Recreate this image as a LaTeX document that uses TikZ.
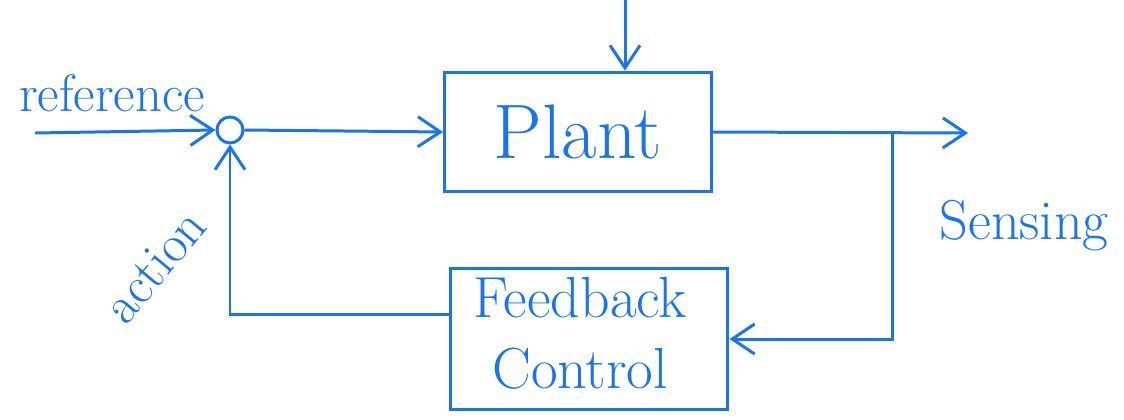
\documentclass[tikz,border=0pt]{standalone}
\usepackage{tikz}
\usetikzlibrary{positioning,shapes,arrows.meta}

\definecolor{ink}{HTML}{1A74F0}

\begin{document}
\begin{tikzpicture}[x=0.02cm, y=-0.02cm,
    line width=1.7pt, draw=ink, text=ink,
    block/.style={draw=ink, rectangle, inner sep=0pt},
    arr/.style={-{Straight Barb[length=0.45cm, width=0.6cm]}},
    lbl/.style={font=\fontsize{30}{32}\selectfont}]
    \useasboundingbox (0,0) rectangle (1124,419);

    % blocks
    \node (sum) [circle, draw=ink, minimum size=0.52cm, inner sep=0pt] at (230,130) {};
    \node (plant) [block, minimum width=5.34cm, minimum height=2.4cm] at (578,132)
    {
        {\fontsize{44}{46}\selectfont Plant}
    };
    \node (fb) [block, minimum width=5.56cm, minimum height=2.76cm] at (589,339)
    {
        {\fontsize{33}{40}\selectfont
        \begin{tabular}{c}
        Feedback \\
        Control
        \end{tabular}
        }
    };

    % free ends
    \coordinate (refin) at (35,133);
    \coordinate (dist) at (625,0);
    \coordinate (out) at (968,133);
    \coordinate (tap) at (892,133);

    % connectors
    \draw[arr] (refin) -- (sum.west);
    \draw[arr] (sum.east) -- (plant.west);
    \draw[arr] (dist) -- (dist |- plant.north);
    \draw[arr] (plant.east) -- (out);
    \draw[arr] (tap) |- (fb.east);
    \draw[arr] (fb.170) -| (sum.south);

    % labels
    \node (reflbl) [lbl] at (112,93) {reference};
    \node (senslbl) [lbl, font=\fontsize{32}{34}\selectfont] at (1024,226) {Sensing};
    \node (actlbl) [lbl, rotate=50] at (155,266) {action};
\end{tikzpicture}
\end{document}
